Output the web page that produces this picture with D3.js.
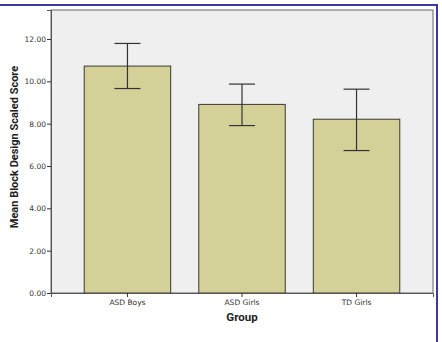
<html>
<head>
<script src="https://d3js.org/d3.v7.min.js"></script>
</head>
<body style="margin:0;background:#fff">
<svg width="442" height="342"></svg>
<script>
// chart data
var groups = ["ASD Boys", "ASD Girls", "TD Girls"];
var means = [10.72, 8.91, 8.21];
var errLow = [9.66, 7.91, 6.73];
var errHigh = [11.79, 9.87, 9.63];
var yTicks = [0, 2, 4, 6, 8, 10, 12];

var svg = d3.select("svg");
// note: "top" is taken by window.top, so use plot* names
var plotL = 51, plotR = 433, plotT = 10, plotB = 293;

// outer blue frame
svg.append("path")
  .attr("d", "M0,5H437V342")
  .attr("fill", "none")
  .attr("stroke", "#3a3a9c")
  .attr("stroke-width", 2);

var x = d3.scaleBand().domain(groups).range([plotL, plotR])
  .paddingInner(0.245).paddingOuter(0.29);
var y = d3.scaleLinear().domain([0, 13.37]).range([plotB, plotT]);

svg.append("rect")
  .attr("x", plotL).attr("y", plotT)
  .attr("width", plotR - plotL).attr("height", plotB - plotT)
  .attr("fill", "#efefef")
  .attr("stroke", "#666").attr("stroke-width", 1);

svg.selectAll(".bar").data(groups).enter().append("rect")
  .attr("class", "bar")
  .attr("x", function (d) { return x(d); })
  .attr("y", function (d, i) { return y(means[i]); })
  .attr("width", x.bandwidth())
  .attr("height", function (d, i) { return plotB - y(means[i]); })
  .attr("fill", "#d3d098")
  .attr("stroke", "#3a3a30").attr("stroke-width", 1);

// error bars
var cap = 13;
var eb = svg.selectAll(".err").data(groups).enter().append("g").attr("class", "err")
  .attr("stroke", "#333").attr("stroke-width", 1.2);
eb.append("line")
  .attr("x1", function (d) { return x(d) + x.bandwidth() / 2; })
  .attr("x2", function (d) { return x(d) + x.bandwidth() / 2; })
  .attr("y1", function (d, i) { return y(errLow[i]); })
  .attr("y2", function (d, i) { return y(errHigh[i]); });
eb.append("line")
  .attr("x1", function (d) { return x(d) + x.bandwidth() / 2 - cap; })
  .attr("x2", function (d) { return x(d) + x.bandwidth() / 2 + cap; })
  .attr("y1", function (d, i) { return y(errHigh[i]); })
  .attr("y2", function (d, i) { return y(errHigh[i]); });
eb.append("line")
  .attr("x1", function (d) { return x(d) + x.bandwidth() / 2 - cap; })
  .attr("x2", function (d) { return x(d) + x.bandwidth() / 2 + cap; })
  .attr("y1", function (d, i) { return y(errLow[i]); })
  .attr("y2", function (d, i) { return y(errLow[i]); });

// axes
var yAxis = svg.append("g").attr("transform", "translate(" + plotL + ",0)")
  .call(d3.axisLeft(y).tickValues(yTicks).tickFormat(d3.format(".2f")).tickSize(4).tickPadding(1));
var xAxis = svg.append("g").attr("transform", "translate(0," + plotB + ")")
  .call(d3.axisBottom(x).tickSize(4).tickPadding(3));
[yAxis, xAxis].forEach(function (a) {
  a.select(".domain").attr("stroke", "#555");
  a.selectAll(".tick line").attr("stroke", "#333");
  a.selectAll("text").attr("fill", "#333")
    .style("font-family", "DejaVu Sans, sans-serif").style("font-size", "7.5px");
});

svg.append("text")
  .attr("transform", "translate(18,147) rotate(-90)")
  .attr("text-anchor", "middle")
  .style("font-family", "Roboto, sans-serif")
  .style("font-size", "11px").style("font-weight", "bold").attr("fill", "#222")
  .text("Mean Block Design Scaled Score");

svg.append("text")
  .attr("x", 242).attr("y", 321)
  .attr("text-anchor", "middle")
  .style("font-family", "Roboto, sans-serif")
  .style("font-size", "11.5px").style("font-weight", "bold").attr("fill", "#222")
  .text("Group");
</script>
</body>
</html>
